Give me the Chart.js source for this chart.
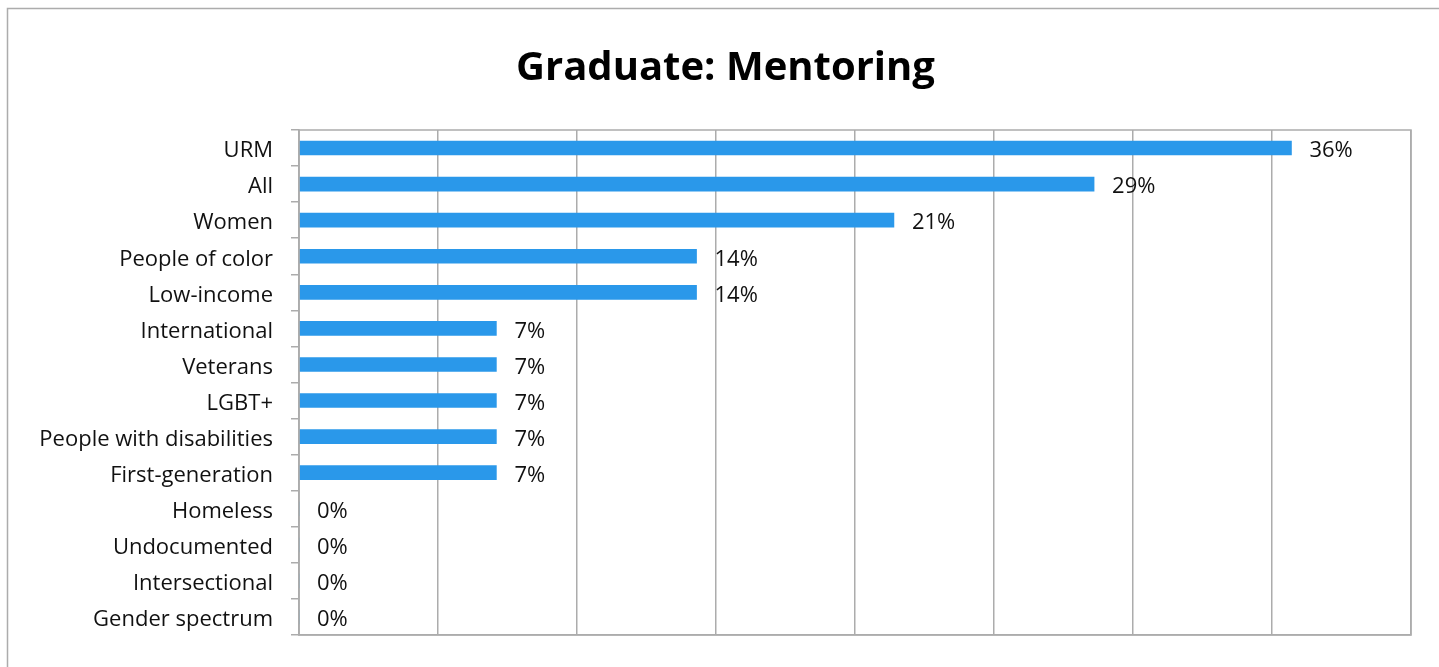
<!DOCTYPE html>
<html>
<head>
<meta charset="utf-8">
<script src="https://cdn.jsdelivr.net/npm/chart.js@4/dist/chart.umd.min.js"></script>
<style>
    html, body { margin: 0; padding: 0; background: #fff; overflow: hidden; }
    #wrap { width: 1439px; height: 667px; position: relative; }
</style>
</head>
<body>
<div id="wrap"><canvas id="mentoringChart"></canvas></div>
<script>
// Share of programs offering mentoring, by group
const groups = [
    'URM', 'All', 'Women', 'People of color', 'Low-income', 'International',
    'Veterans', 'LGBT+', 'People with disabilities', 'First-generation',
    'Homeless', 'Undocumented', 'Intersectional', 'Gender spectrum'
];
const shares = [
    0.357, 0.286, 0.214, 0.143, 0.143, 0.071,
    0.071, 0.071, 0.071, 0.071,
    0, 0, 0, 0
];
const axisMax = 0.4;
const axisStep = 0.05;

const fontFamily = '"Open Sans", Lato, sans-serif';
const labelFont = '22px ' + fontFamily;
const lineGrey = '#acacac';
const padLeft = 40;

// Outer frame plus box around the plot area
const framePlugin = {
    id: 'frame',
    beforeDraw(chart) {
        const ctx = chart.ctx;
        ctx.save();
        ctx.strokeStyle = lineGrey;
        ctx.lineWidth = 1.5;
        ctx.beginPath();
        ctx.moveTo(7.5, chart.height + 10);
        ctx.lineTo(7.5, 8.5);
        ctx.lineTo(chart.width + 10, 8.5);
        ctx.stroke();
        ctx.restore();
    },
    afterDraw(chart) {
        const a = chart.chartArea;
        const ctx = chart.ctx;
        ctx.save();
        ctx.strokeStyle = lineGrey;
        ctx.lineWidth = 1.5;
        ctx.strokeRect(a.left, a.top, a.right - a.left, a.bottom - a.top);
        ctx.restore();
    }
};

// Percent labels to the right of each bar
const valueLabels = {
    id: 'valueLabels',
    afterDatasetsDraw(chart) {
        const ctx = chart.ctx;
        const meta = chart.getDatasetMeta(0);
        ctx.save();
        ctx.font = labelFont;
        ctx.fillStyle = '#111';
        ctx.textAlign = 'left';
        ctx.textBaseline = 'middle';
        meta.data.forEach((bar, i) => {
            const v = chart.data.datasets[0].data[i];
            ctx.fillText(Math.round(v * 100) + '%', bar.x + 18, bar.y + 3);
        });
        ctx.restore();
    }
};

new Chart(document.getElementById('mentoringChart'), {
    type: 'bar',
    data: {
        labels: groups,
        datasets: [
            {
                data: shares,
                backgroundColor: '#2a98ea',
                borderWidth: 0,
                barThickness: 14
            }
        ]
    },
    options: {
        indexAxis: 'y',
        responsive: true,
        maintainAspectRatio: false,
        animation: false,
        layout: {
            padding: { top: 0, right: 28, bottom: 32, left: padLeft }
        },
        plugins: {
            legend: { display: false },
            tooltip: { enabled: false },
            title: {
                display: true,
                text: 'Graduate: Mentoring',
                color: '#000',
                font: { family: fontFamily, size: 40, weight: 'bold' },
                padding: { top: 45, bottom: 37 }
            }
        },
        scales: {
            x: {
                min: 0,
                max: axisMax,
                ticks: { display: false, stepSize: axisStep },
                grid: { color: lineGrey, lineWidth: 1.5, drawTicks: false },
                border: { display: true, color: lineGrey, width: 1.5 }
            },
            y: {
                afterFit(scale) {
                    // plot area starts at x = 299
                    scale.width = 299 - padLeft;
                },
                ticks: {
                    color: '#111',
                    font: { family: fontFamily, size: 22 },
                    padding: 18,
                    labelOffset: 3
                },
                grid: {
                    offset: true,
                    drawOnChartArea: false,
                    drawTicks: true,
                    tickLength: 8,
                    color: lineGrey,
                    lineWidth: 1.5
                },
                border: { display: true, color: lineGrey, width: 1.5 }
            }
        }
    },
    plugins: [framePlugin, valueLabels]
});
</script>
</body>
</html>
